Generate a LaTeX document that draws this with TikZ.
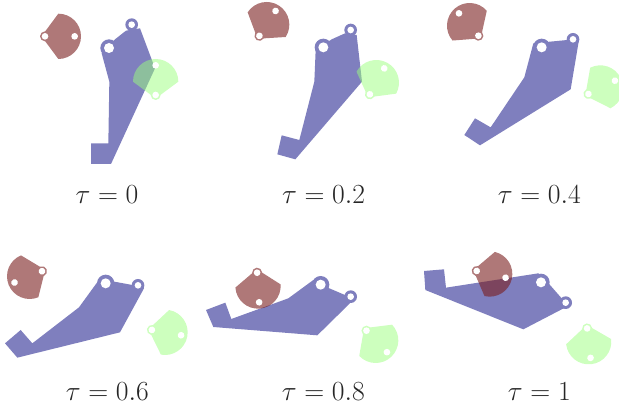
\documentclass[tikz,border=0pt]{standalone}
\usepackage{amsmath, amssymb}
\usepackage{tikz}
\definecolor{linkblue}{RGB}{127, 127, 190}
\definecolor{fanred}  {RGB}{122,  30,  30}
\definecolor{fangreen}{RGB}{155, 255, 125}
\tikzset{
  linkfill/.style={fill=linkblue},
  holefill/.style={fill=white},
  redfan/.style={fill=fanred},
  greenfan/.style={fill=fangreen},
  taulabel/.style={anchor=base, font=\huge, color=black!85},
}
% one fan piece: centre x, centre y, turn, style, opacity
\newcommand{\fanpiece}[5]{
  \begin{scope}[shift={(#1,#2)}, rotate=#3]
    \begin{scope}[transparency group, opacity=#5]
      \fill[#4] (90:68) arc[start angle=90, end angle=-90, radius=68]
        -- (-40,-14) -- (-40,14) -- cycle;
      \fill[#4] (-40,0) circle (15);
    \end{scope}
    \fill[holefill] (-40,0) circle (10);
    \fill[holefill] (49,0) circle (10);
  \end{scope}
}
% one link piece: big lug x, y, small lug x, y
\newcommand{\lugs}[4]{
  \fill[linkfill] (#1,#2) circle (26);
  \fill[linkfill] (#3,#4) circle (19);
  \fill[holefill] (#1,#2) circle (15);
  \fill[holefill] (#3,#4) circle (10);
}

\begin{document}
\begin{tikzpicture}[x=0.25pt, y=-0.25pt]
  \clip (0,0) rectangle (1857,1227);

  % tau = 0
  \begin{scope}
    \fill[linkfill] (273,430) -- (325,430) -- (328,245) -- (305,160) -- (345,118)
      -- (378,92) -- (420,85) -- (465,205) -- (333,492) -- (273,492) -- cycle;
    \lugs{327}{144}{395}{74}
  \end{scope}
  \node[taulabel] (tau0) at (321,612) {$\tau = 0$};

  % tau = 0.2
  \begin{scope}[shift={(630,0)}]
    \fill[linkfill] (215,406) -- (268,420) -- (313,245) -- (317,150) -- (365,118)
      -- (405,100) -- (440,105) -- (456,245) -- (256,478) -- (202,463) -- cycle;
    \lugs{340}{142}{422}{90}
  \end{scope}
  \node[taulabel] (tau2) at (971,612) {$\tau = 0.2$};

  % tau = 0.4
  \begin{scope}[shift={(1230,0)}]
    \fill[linkfill] (195,355) -- (242,382) -- (343,232) -- (370,130) -- (420,125)
      -- (472,120) -- (506,125) -- (482,268) -- (210,436) -- (163,405) -- cycle;
    \lugs{395}{142}{489}{118}
  \end{scope}
  \node[taulabel] (tau4) at (1618,612) {$\tau = 0.4$};

  % tau = 0.6
  \begin{scope}[shift={(0,630)}]
    \fill[linkfill] (15,400) -- (62,360) -- (97,400) -- (237,292) -- (293,215)
      -- (343,215) -- (397,225) -- (432,235) -- (360,367) -- (52,443) -- cycle;
    \lugs{317}{220}{414}{226}
  \end{scope}
  \node[taulabel] (tau6) at (322,1202) {$\tau = 0.6$};

  % tau = 0.8
  \begin{scope}[shift={(600,630)}]
    \fill[linkfill] (18,300) -- (76,278) -- (94,327) -- (265,265) -- (340,210)
      -- (388,235) -- (435,255) -- (470,260) -- (352,376) -- (40,351) -- cycle;
    \lugs{362}{224}{452}{260}
  \end{scope}
  \node[taulabel] (tau8) at (970,1202) {$\tau = 0.8$};

  % tau = 1
  \begin{scope}[shift={(1230,630)}]
    \fill[linkfill] (42,183) -- (102,178) -- (108,233) -- (385,190) -- (420,225)
      -- (455,265) -- (486,282) -- (340,358) -- (46,240) -- cycle;
    \lugs{393}{217}{467}{278}
  \end{scope}
  \node[taulabel] (tau10) at (1618,1202) {$\tau = 1$};

  % fan pieces over the links
  \fanpiece{175}{109}{0}{redfan}{0.6}
  \fanpiece{800}{74}{57}{redfan}{0.6}
  \fanpiece{1409}{77}{131}{redfan}{0.6}
  \fanpiece{89}{829}{202.4}{redfan}{0.6}
  \fanpiece{774}{858}{-86}{redfan}{0.6}
  \fanpiece{1469}{822}{-13.2}{redfan}{0.6}

  \fanpiece{467}{245}{90}{greenfan}{0.5}
  \fanpiece{1129}{248}{61}{greenfan}{0.5}
  \fanpiece{1801}{264}{26.6}{greenfan}{0.5}
  \fanpiece{495}{997}{-10.4}{greenfan}{0.5}
  \fanpiece{1127}{1021}{-46.4}{greenfan}{0.5}
  \fanpiece{1766}{1025}{-83.4}{greenfan}{0.5}
\end{tikzpicture}
\end{document}
